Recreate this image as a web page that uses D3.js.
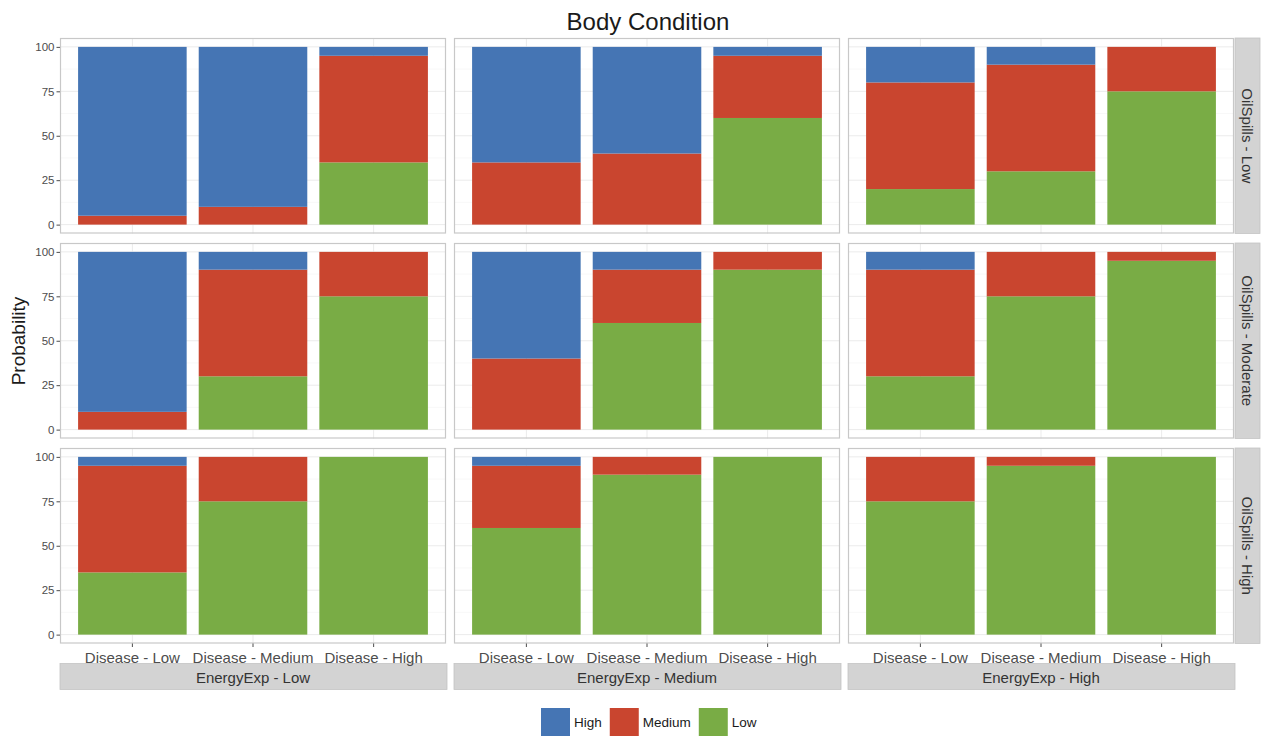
<!DOCTYPE html>
<html>
<head>
<meta charset="utf-8">
<script src="https://cdn.jsdelivr.net/npm/d3@7"></script>
<style>
  html, body { margin: 0; padding: 0; background: #fff; }
  svg { display: block; font-family: "Liberation Sans", Arial, sans-serif; }
</style>
</head>
<body>
<svg id="chart" width="1262" height="737"></svg>
<script>
// ---- data ----
const oilRows = ["OilSpills - Low", "OilSpills - Moderate", "OilSpills - High"];
const energyCols = ["EnergyExp - Low", "EnergyExp - Medium", "EnergyExp - High"];
const diseaseCats = ["Disease - Low", "Disease - Medium", "Disease - High"];
const levels = ["High", "Medium", "Low"];           // legend order
const stackOrder = ["Low", "Medium", "High"];       // bottom -> top
const yTicks = [0, 25, 50, 75, 100];

// values per oil row: 9 entries = energy (Low, Medium, High) x disease (Low, Medium, High)
const lowPct = [
  [0, 0, 35,   0, 0, 60,   20, 30, 75],
  [0, 30, 75,  0, 60, 90,  30, 75, 95],
  [35, 75, 100, 60, 90, 100, 75, 95, 100]
];
const mediumPct = [
  [5, 10, 60,  35, 40, 35,  60, 60, 25],
  [10, 60, 25, 40, 30, 10,  60, 25, 5],
  [60, 25, 0,  35, 10, 0,   25, 5, 0]
];
const highPct = [
  [95, 90, 5,  65, 60, 5,   20, 10, 0],
  [90, 10, 0,  60, 10, 0,   10, 0, 0],
  [5, 0, 0,    5, 0, 0,     0, 0, 0]
];
const colors = { High: "#4575B4", Medium: "#C9452F", Low: "#79AC45" };

// ---- layout ----
const svg = d3.select("#chart");
const panelX0 = 60, panelW = 386, colStep = 394;
const panelY0 = 38, panelH = 195.5, rowStep = 205;
const font = "'Liberation Sans', Arial, sans-serif";

// title
svg.append("text").attr("x", 648).attr("y", 30).attr("text-anchor", "middle")
  .attr("font-size", 24).attr("fill", "#1a1a1a").text("Body Condition");

// y axis title
svg.append("text").attr("transform", "translate(25,341) rotate(-90)")
  .attr("text-anchor", "middle").attr("font-size", 19).attr("fill", "#1a1a1a").text("Probability");

const table = [];
oilRows.forEach((oil, r) => {
  energyCols.forEach((en, c) => {
    diseaseCats.forEach((dis, d) => {
      const i = c * 3 + d;
      table.push({ r, c, disease: dis, Low: lowPct[r][i], Medium: mediumPct[r][i], High: highPct[r][i] });
    });
  });
});
const stack = d3.stack().keys(stackOrder);

oilRows.forEach((oil, r) => {
  energyCols.forEach((en, c) => {
    const x0 = panelX0 + c * colStep, y0 = panelY0 + r * rowStep;
    const g = svg.append("g").attr("transform", `translate(${x0},${y0})`);
    const x = d3.scaleBand().domain(diseaseCats).range([0, panelW]).paddingInner(0.1).paddingOuter(0.15);
    const y = d3.scaleLinear().domain([-5, 105]).range([panelH, 0]);

    g.append("rect").attr("width", panelW).attr("height", panelH).attr("fill", "#fff");
    // minor grid
    const minor = [12.5, 37.5, 62.5, 87.5];
    g.selectAll(".mn").data(minor).enter().append("line")
      .attr("x1", 0).attr("x2", panelW).attr("y1", v => y(v)).attr("y2", v => y(v))
      .attr("stroke", "#f4f4f4").attr("stroke-width", 0.6);
    g.selectAll(".mj").data(yTicks).enter().append("line")
      .attr("x1", 0).attr("x2", panelW).attr("y1", v => y(v)).attr("y2", v => y(v))
      .attr("stroke", "#ebebeb").attr("stroke-width", 1);
    g.selectAll(".vg").data(diseaseCats).enter().append("line")
      .attr("x1", v => x(v) + x.bandwidth() / 2).attr("x2", v => x(v) + x.bandwidth() / 2)
      .attr("y1", 0).attr("y2", panelH).attr("stroke", "#ebebeb").attr("stroke-width", 1);

    const rows = table.filter(t => t.r === r && t.c === c);
    const series = stack(rows);
    series.forEach(s => {
      g.selectAll(null).data(s).enter().append("rect")
        .attr("x", dd => x(dd.data.disease))
        .attr("width", x.bandwidth())
        .attr("y", dd => y(dd[1]))
        .attr("height", dd => Math.max(0, y(dd[0]) - y(dd[1])))
        .attr("fill", colors[s.key]);
    });

    g.append("rect").attr("x", 0.5).attr("y", 0.5).attr("width", panelW - 1).attr("height", panelH - 1)
      .attr("fill", "none").attr("stroke", "#c8c8c8").attr("stroke-width", 1.2);

    if (c === 0) {
      const ax = g.append("g").call(d3.axisLeft(y).tickValues(yTicks).tickSize(3.5).tickPadding(2));
      ax.select(".domain").remove();
      ax.selectAll("line").attr("stroke", "#4d4d4d");
      ax.selectAll("text").attr("font-size", 11.5).attr("fill", "#4d4d4d").attr("font-family", font);
    }
    if (r === oilRows.length - 1) {
      // bottom strip
      g.append("rect").attr("x", 0).attr("y", panelH + 20).attr("width", panelW + 1).attr("height", 26)
        .attr("fill", "#d3d3d3").attr("stroke", "#c4c4c4").attr("stroke-width", 0.8);
      g.append("text").attr("x", panelW / 2).attr("y", panelH + 34).attr("dy", "0.35em")
        .attr("text-anchor", "middle").attr("font-size", 15).attr("fill", "#333").text(en);
      const ax = g.append("g").attr("transform", `translate(0,${panelH})`)
        .call(d3.axisBottom(x).tickSize(3.5).tickPadding(2));
      ax.select(".domain").remove();
      ax.selectAll("line").attr("stroke", "#4d4d4d");
      ax.selectAll("text").attr("font-size", 15).attr("fill", "#4d4d4d").attr("font-family", font)
        .attr("dy", "0.92em");
    }
    if (c === energyCols.length - 1) {
      g.append("rect").attr("x", panelW + 1).attr("y", 0).attr("width", 25).attr("height", panelH)
        .attr("fill", "#d3d3d3").attr("stroke", "#c4c4c4").attr("stroke-width", 0.8);
      g.append("text").attr("transform", `translate(${panelW + 13.5},${panelH / 2}) rotate(90)`)
        .attr("dy", "0.35em").attr("text-anchor", "middle").attr("font-size", 15).attr("fill", "#333").text(oil);
    }
  });
});

// legend
const leg = svg.append("g");
let lx = 541;
levels.forEach(k => {
  leg.append("rect").attr("x", lx).attr("y", 708).attr("width", 29).attr("height", 28).attr("fill", colors[k]);
  const t = leg.append("text").attr("x", lx + 33).attr("y", 722).attr("dy", "0.35em")
    .attr("font-size", 13.5).attr("fill", "#1a1a1a").text(k);
  lx = lx + 33 + t.node().getComputedTextLength() + 8;
});
</script>
</body>
</html>
